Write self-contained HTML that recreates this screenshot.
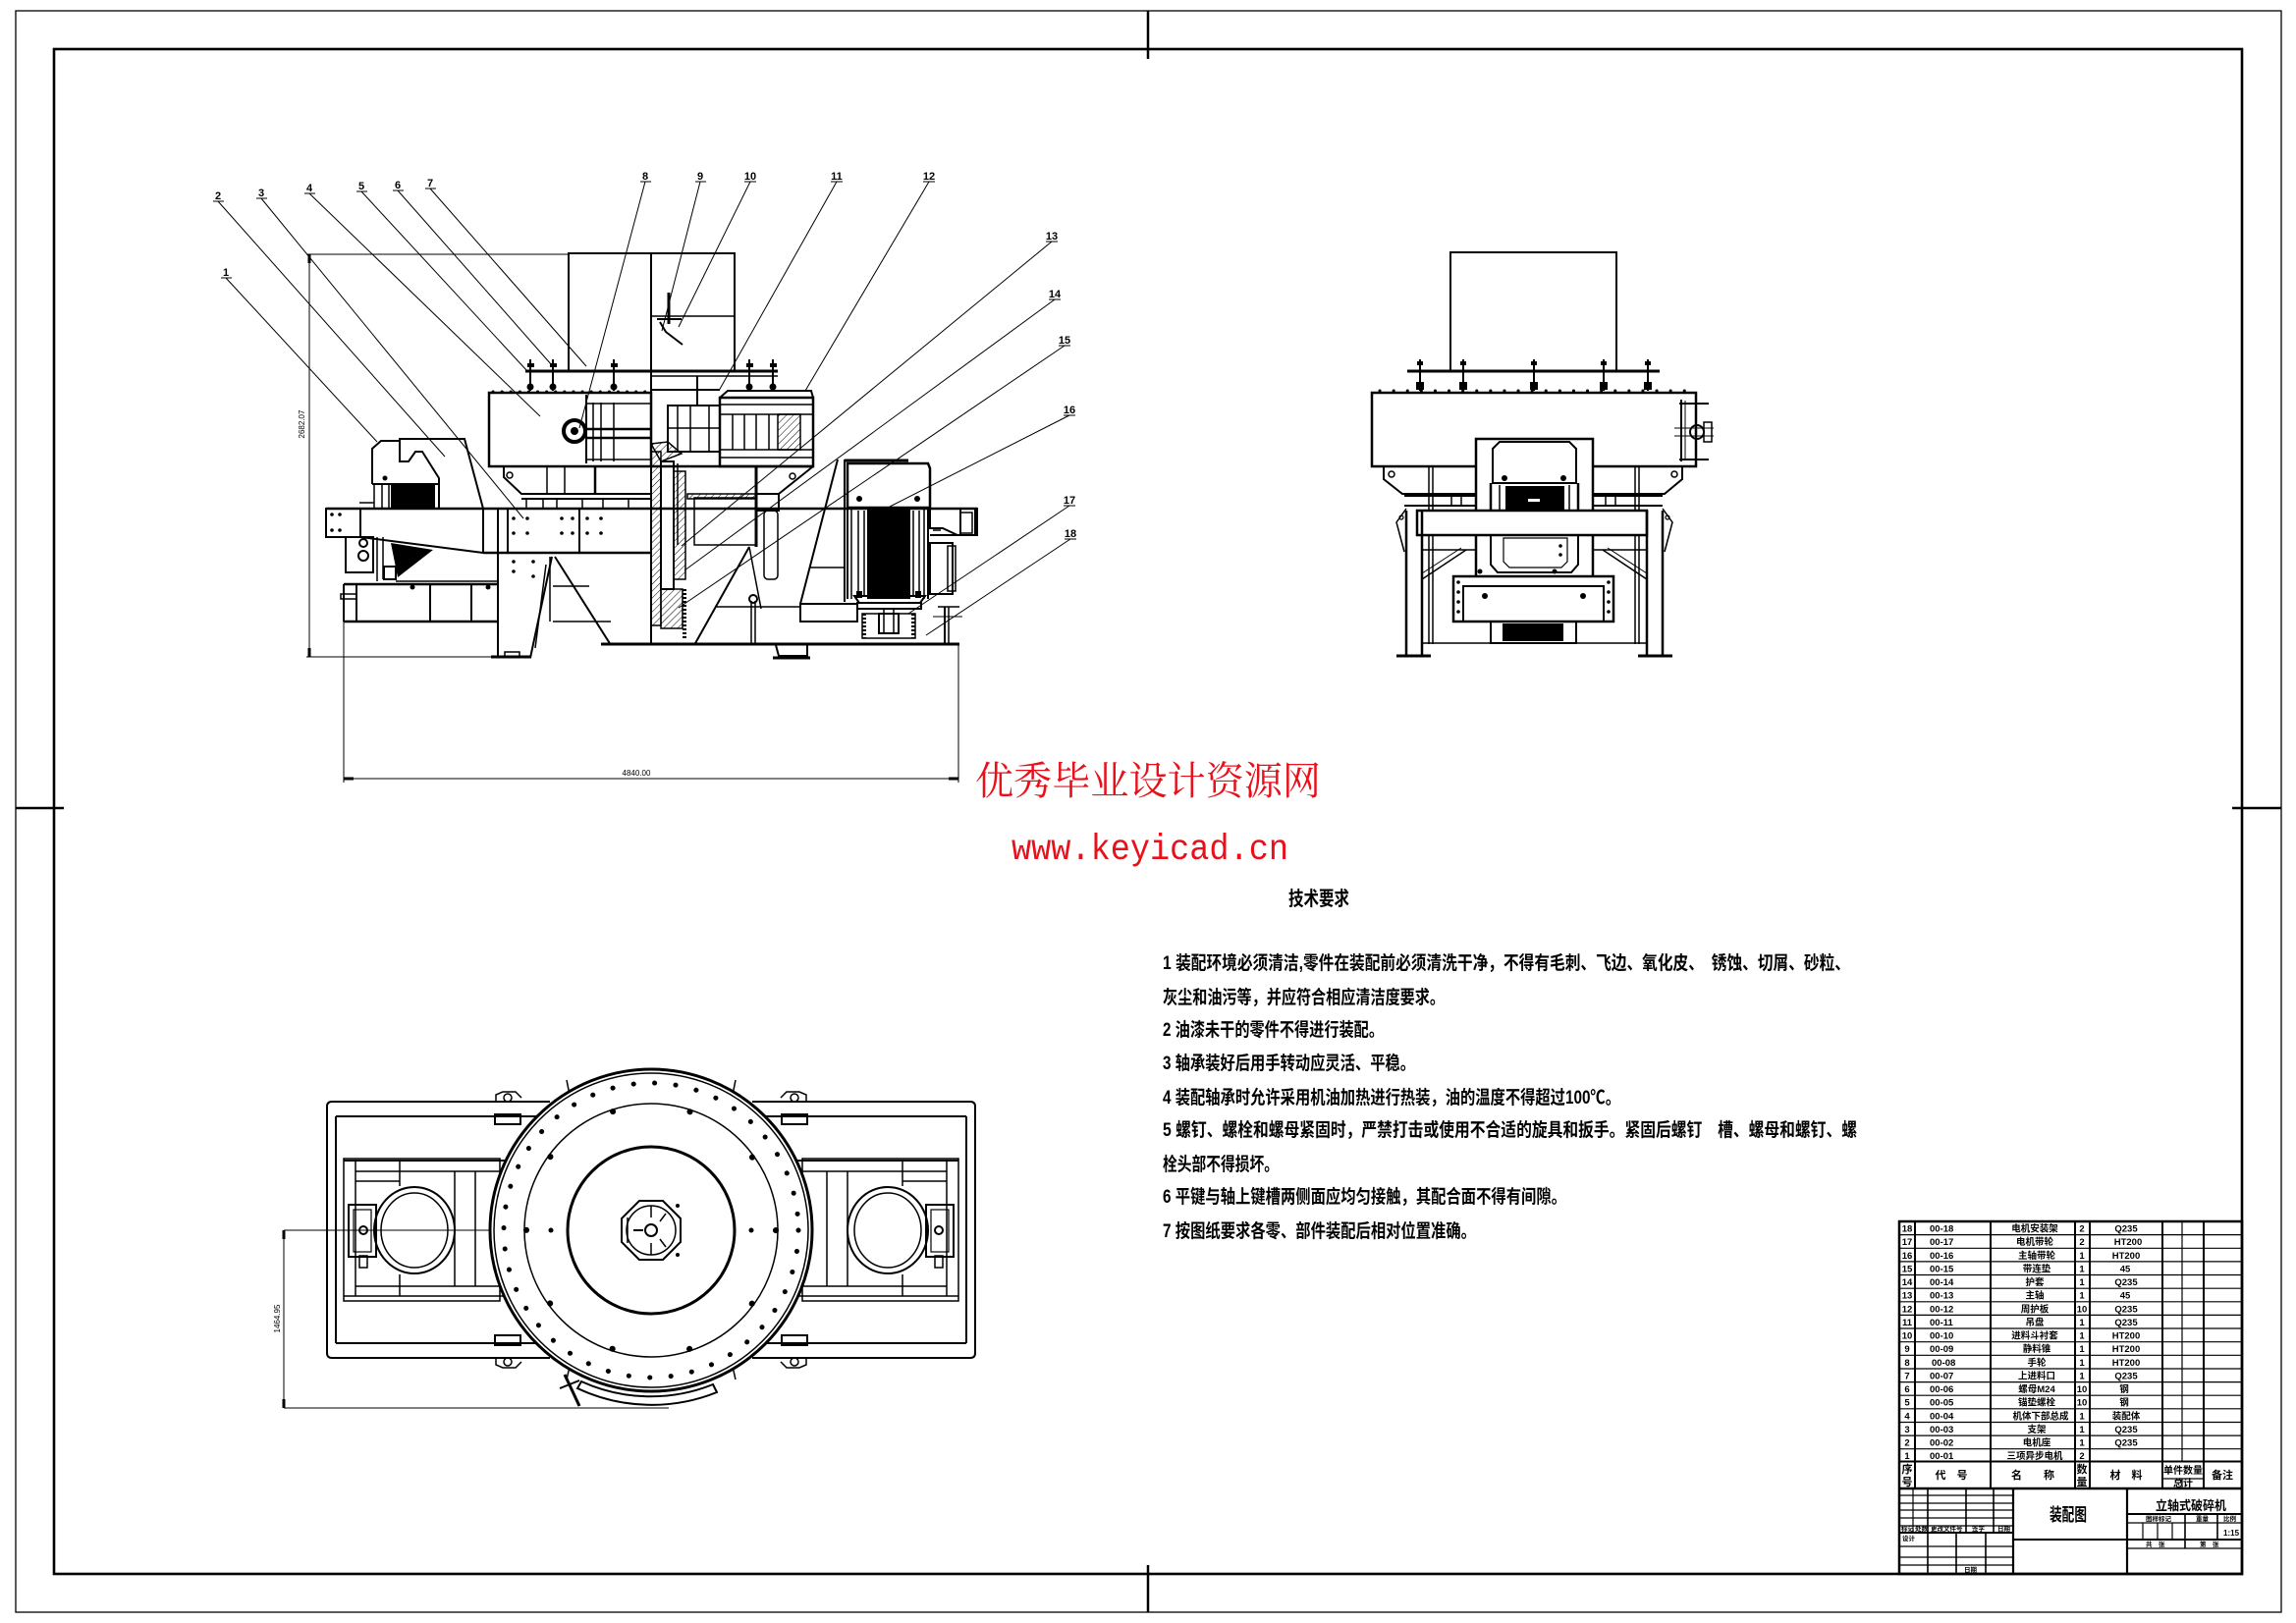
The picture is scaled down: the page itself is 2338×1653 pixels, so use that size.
<!DOCTYPE html>
<html><head><meta charset="utf-8">
<style>
html,body{margin:0;padding:0;background:#fff;}
body{width:2338px;height:1653px;overflow:hidden;}
svg{display:block;}
text{font-family:"Liberation Sans","Noto Sans CJK SC",sans-serif;}
.cj{font-family:"Liberation Sans","Noto Sans CJK SC",sans-serif;font-weight:bold;}
.sf{font-family:"Liberation Serif","Noto Serif CJK SC",serif;}
.mn{font-family:"Liberation Mono",monospace;}
</style></head><body>
<svg width="2338" height="1653" viewBox="0 0 2338 1653" xmlns="http://www.w3.org/2000/svg">
<defs>
<pattern id="h" width="5" height="5" patternUnits="userSpaceOnUse" patternTransform="rotate(45)"><line x1="0" y1="0" x2="0" y2="5" stroke="#000" stroke-width="1"/></pattern>
</defs>
<rect width="2338" height="1653" fill="#fff"/>

<!-- ================= FRAME ================= -->
<g fill="none" stroke="#000">
<rect x="16" y="11" width="2307" height="1631" stroke-width="1.3"/>
<rect x="55" y="50" width="2228" height="1553" stroke-width="2.6"/>
<line x1="1169" y1="11" x2="1169" y2="60" stroke-width="2.5"/>
<line x1="1169" y1="1594" x2="1169" y2="1642" stroke-width="2.5"/>
<line x1="16" y1="823" x2="65" y2="823" stroke-width="2.5"/>
<line x1="2273" y1="823" x2="2323" y2="823" stroke-width="2.5"/>
</g>

<!-- ================= FRONT VIEW ================= -->
<g fill="none" stroke="#000" stroke-width="2">
<!-- dimensions -->
<line x1="315" y1="259" x2="315" y2="669" stroke-width="1"/>
<line x1="312" y1="259" x2="579" y2="259" stroke-width="1"/>
<line x1="312" y1="669" x2="507" y2="669" stroke-width="1"/>
<line x1="315" y1="259" x2="315" y2="268" stroke-width="3"/>
<line x1="315" y1="660" x2="315" y2="669" stroke-width="3"/>
<line x1="350" y1="793" x2="976" y2="793" stroke-width="1"/>
<line x1="350" y1="633" x2="350" y2="797" stroke-width="1"/>
<line x1="976" y1="656" x2="976" y2="797" stroke-width="1"/>
<line x1="350" y1="793" x2="360" y2="793" stroke-width="3"/>
<line x1="966" y1="793" x2="976" y2="793" stroke-width="3"/>

<!-- hopper -->
<rect x="579" y="258" width="169" height="120" stroke-width="2"/>
<line x1="663" y1="258" x2="663" y2="657" stroke-width="2"/>
<line x1="663" y1="322" x2="748" y2="322" stroke-width="1.5"/>
<line x1="681" y1="298" x2="681" y2="330" stroke-width="3"/>
<line x1="669" y1="325" x2="694" y2="325" stroke-width="2"/>
<polyline points="672,328 678,338 695,351" stroke-width="2"/>

<!-- lid + bolts -->
<line x1="535" y1="378" x2="792" y2="378" stroke-width="3"/>
<line x1="663" y1="383" x2="792" y2="383" stroke-width="1.5"/>
<line x1="540" y1="366" x2="540" y2="398"/>
<line x1="563" y1="366" x2="563" y2="398"/>
<line x1="625" y1="366" x2="625" y2="398"/>
<line x1="763" y1="366" x2="763" y2="398"/>
<line x1="787" y1="366" x2="787" y2="398"/>
<line x1="710" y1="383" x2="710" y2="413"/>

<!-- upper body 4 -->
<rect x="498" y="400" width="165" height="75" stroke-width="2.5"/>
<line x1="502" y1="399" x2="660" y2="399" stroke-width="3" stroke-dasharray="0.1 9" stroke-linecap="round"/>
<circle cx="585" cy="439" r="11" stroke-width="4"/>
<line x1="597" y1="402" x2="597" y2="472" stroke-width="2"/>
<line x1="604" y1="410" x2="604" y2="470" stroke-width="1.5"/>
<line x1="612" y1="410" x2="612" y2="470" stroke-width="1.5"/>
<line x1="625" y1="410" x2="625" y2="470" stroke-width="1.5"/>
<line x1="597" y1="411" x2="663" y2="411" stroke-width="1.5"/>
<line x1="597" y1="437" x2="663" y2="437" stroke-width="2.5"/>
<line x1="597" y1="446" x2="663" y2="446" stroke-width="2.5"/>
<line x1="597" y1="468" x2="663" y2="468" stroke-width="1.5"/>

<!-- below body -->
<polyline points="513,475 513,486 531,503 663,503"/>
<line x1="531" y1="508" x2="663" y2="508"/>
<circle cx="519" cy="484" r="3" stroke-width="1.5"/>
<line x1="557" y1="475" x2="557" y2="503" stroke-width="1.5"/>
<line x1="575" y1="475" x2="575" y2="503" stroke-width="1.5"/>
<line x1="606" y1="475" x2="606" y2="503" stroke-width="2.5"/>
<line x1="536" y1="508" x2="536" y2="518" stroke-width="1.5"/>
<line x1="553" y1="508" x2="553" y2="518" stroke-width="1.5"/>
<line x1="567" y1="508" x2="567" y2="518" stroke-width="1.5"/>
<line x1="593" y1="508" x2="593" y2="518" stroke-width="1.5"/>
<line x1="614" y1="508" x2="614" y2="518" stroke-width="1.5"/>
<line x1="640" y1="508" x2="640" y2="518" stroke-width="1.5"/>

<!-- right chamber -->
<line x1="663" y1="397" x2="733" y2="397"/>
<rect x="680" y="413" width="53" height="47"/>
<line x1="690" y1="413" x2="690" y2="460" stroke-width="1.5"/>
<line x1="703" y1="413" x2="703" y2="460" stroke-width="1.5"/>
<line x1="722" y1="413" x2="722" y2="460" stroke-width="1.5"/>
<line x1="680" y1="436" x2="733" y2="436" stroke-width="1.5"/>
<rect x="733" y="405" width="95" height="70" stroke-width="2.5"/>
<polyline points="733,405 741,398 826,398 828,405"/>
<line x1="733" y1="412" x2="828" y2="412" stroke-width="1.5"/>
<line x1="733" y1="422" x2="828" y2="422" stroke-width="1.5"/>
<line x1="733" y1="458" x2="828" y2="458" stroke-width="1.5"/>
<line x1="733" y1="466" x2="828" y2="466" stroke-width="1.5"/>
<line x1="746" y1="422" x2="746" y2="458" stroke-width="1.5"/>
<line x1="758" y1="422" x2="758" y2="458" stroke-width="1.5"/>
<line x1="770" y1="422" x2="770" y2="458" stroke-width="1.5"/>
<line x1="783" y1="422" x2="783" y2="458" stroke-width="1.5"/>
<rect x="792" y="422" width="23" height="36" fill="url(#h)" stroke-width="1.5"/>
<polygon points="663,452 680,450 694,462 673,470" fill="url(#h)" stroke-width="1.5"/>
<line x1="663" y1="475" x2="829" y2="475" stroke-width="2.5"/>

<!-- shaft -->
<rect x="663" y="460" width="10" height="177" fill="url(#h)" stroke-width="1.5"/>
<rect x="673" y="470" width="13" height="130" stroke-width="2"/>
<rect x="686" y="480" width="12" height="110" fill="url(#h)" stroke-width="1.5"/>
<line x1="697" y1="600" x2="697" y2="652" stroke-width="4" stroke-dasharray="2 2"/>
<rect x="673" y="600" width="22" height="40" fill="url(#h)" stroke-width="1.5"/>

<!-- below chamber -->
<line x1="690" y1="472" x2="690" y2="555" stroke-width="1.5"/>
<line x1="770" y1="475" x2="770" y2="557" stroke-width="3"/>
<rect x="707" y="507" width="63" height="48" stroke-width="1.5"/>
<rect x="700" y="503" width="70" height="5" fill="url(#h)" stroke-width="1.5"/>
<rect x="770" y="503" width="23" height="17"/>
<rect x="778" y="520" width="14" height="70" rx="4" stroke-width="1.5"/>
<line x1="828" y1="475" x2="793" y2="503"/>
<circle cx="807" cy="485" r="3" stroke-width="1.5"/>

<!-- beam -->
<line x1="332" y1="518" x2="995" y2="518" stroke-width="2.5"/>
<rect x="332" y="518" width="35" height="29"/>
<line x1="367" y1="547" x2="492" y2="563"/>
<line x1="492" y1="563" x2="663" y2="563" stroke-width="2.5"/>
<line x1="492" y1="518" x2="492" y2="563"/>
<line x1="507" y1="518" x2="507" y2="563"/>
<line x1="517" y1="518" x2="517" y2="563"/>
<line x1="590" y1="518" x2="590" y2="563"/>
<rect x="978" y="518" width="17" height="27"/>
<line x1="947" y1="545" x2="995" y2="545"/>
<line x1="793" y1="518" x2="860" y2="518" stroke-width="1.5"/>
<line x1="825" y1="578" x2="860" y2="578" stroke-width="1.5"/>

<!-- left feeder -->
<polyline points="379,493 379,457 388,449 407,449 407,447 473,447 492,518"/>
<polyline points="407,447 407,470 416,470 423,460 430,460 447,487 447,518"/>
<line x1="381" y1="493" x2="381" y2="518" stroke-width="1.5"/>
<line x1="389" y1="493" x2="389" y2="518" stroke-width="1.5"/>
<line x1="396" y1="493" x2="396" y2="518" stroke-width="1.5"/>
<line x1="379" y1="493" x2="447" y2="493"/>
<line x1="366" y1="512" x2="381" y2="512" stroke-width="1.5"/>

<!-- lower left -->
<rect x="352" y="547" width="28" height="36"/>
<circle cx="370" cy="553" r="4"/>
<circle cx="370" cy="566" r="5"/>
<line x1="384" y1="547" x2="384" y2="592" stroke-width="1.5"/>
<line x1="390" y1="547" x2="390" y2="590" stroke-width="1.5"/>
<rect x="391" y="577" width="12" height="13"/>
<line x1="403" y1="592" x2="507" y2="592" stroke-width="1.5"/>
<line x1="350" y1="595" x2="507" y2="595" stroke-width="2.5"/>
<line x1="350" y1="633" x2="507" y2="633" stroke-width="2.5"/>
<line x1="350" y1="595" x2="350" y2="633"/>
<line x1="363" y1="595" x2="363" y2="633"/>
<line x1="438" y1="595" x2="438" y2="633"/>
<line x1="480" y1="595" x2="480" y2="633"/>
<rect x="347" y="605" width="16" height="5" stroke-width="1.5"/>

<!-- left cone support -->
<line x1="507" y1="563" x2="507" y2="670"/>
<line x1="540" y1="670" x2="562" y2="567"/>
<line x1="565" y1="567" x2="622" y2="657"/>
<line x1="556" y1="575" x2="545" y2="660" stroke-width="1.5"/>
<line x1="560" y1="567" x2="560" y2="633" stroke-width="1.5"/>
<line x1="563" y1="597" x2="600" y2="597" stroke-width="1.5"/>
<line x1="563" y1="633" x2="622" y2="633" stroke-width="1.5"/>
<line x1="500" y1="669" x2="541" y2="669" stroke-width="3"/>
<rect x="514" y="664" width="15" height="5" stroke-width="1.5"/>

<!-- base -->
<line x1="612" y1="656" x2="977" y2="656" stroke-width="3"/>
<polyline points="790,657 793,668 822,668 822,657"/>
<line x1="787" y1="670" x2="825" y2="670" stroke-width="3"/>

<!-- right cone -->
<line x1="763" y1="557" x2="707" y2="657"/>
<line x1="763" y1="557" x2="775" y2="620" stroke-width="1.5"/>
<line x1="728" y1="618" x2="815" y2="618" stroke-width="1.5"/>
<line x1="765" y1="612" x2="765" y2="656" stroke-width="1.5"/>
<line x1="769" y1="612" x2="769" y2="656" stroke-width="1.5"/>
<circle cx="767" cy="610" r="4"/>

<!-- motor support -->
<line x1="853" y1="468" x2="815" y2="615"/>
<line x1="860" y1="468" x2="860" y2="613"/>
<rect x="815" y="615" width="58" height="18"/>

<!-- motor -->
<line x1="860" y1="469" x2="925" y2="469" stroke-width="3"/>
<polygon points="863,472 945,472 947,477 947,517 863,517" stroke-width="2.5"/>
<line x1="863" y1="517" x2="863" y2="610"/>
<line x1="867" y1="517" x2="867" y2="610" stroke-width="1.5"/>
<line x1="945" y1="517" x2="945" y2="610"/>
<line x1="941" y1="517" x2="941" y2="610" stroke-width="1.5"/>
<line x1="874" y1="520" x2="874" y2="607" stroke-width="1.5"/>
<line x1="880" y1="520" x2="880" y2="607" stroke-width="1.5"/>
<line x1="930" y1="520" x2="930" y2="607" stroke-width="1.5"/>
<line x1="936" y1="520" x2="936" y2="607" stroke-width="1.5"/>
<polygon points="870,607 875,614 937,614 942,607"/>
<rect x="873" y="614" width="65" height="6"/>
<rect x="878" y="625" width="54" height="25" stroke-width="1.5"/>
<line x1="880" y1="625" x2="880" y2="650" stroke-width="4" stroke-dasharray="2 2"/>
<line x1="930" y1="625" x2="930" y2="650" stroke-width="4" stroke-dasharray="2 2"/>
<rect x="895" y="625" width="20" height="20"/>
<line x1="900" y1="620" x2="900" y2="645" stroke-width="1.5"/>
<line x1="910" y1="620" x2="910" y2="645" stroke-width="1.5"/>
<polygon points="947,518 993,518 993,545 975,545 960,538 947,538"/>
<rect x="978" y="522" width="12" height="21" stroke-width="1.5"/>
<rect x="947" y="553" width="23" height="52"/>
<rect x="965" y="556" width="8" height="46" stroke-width="1.5"/>
<line x1="950" y1="540" x2="958" y2="540" stroke-width="1.5"/>
<line x1="962" y1="618" x2="962" y2="656"/>
<line x1="966" y1="618" x2="966" y2="656" stroke-width="1.5"/>
<line x1="955" y1="618" x2="977" y2="618" stroke-width="1.5"/>
<line x1="950" y1="628" x2="980" y2="628" stroke-width="1"/>
</g>
<!-- front fills -->
<g fill="#000" stroke="none">
<rect x="398" y="493" width="45" height="25"/>
<polygon points="398,553 441,560 405,588"/>
<rect x="883" y="517" width="44" height="93"/>
<rect x="872" y="602" width="6" height="7"/>
<rect x="932" y="602" width="6" height="7"/>
<circle cx="875" cy="508" r="3"/>
<circle cx="934" cy="508" r="3"/>
<circle cx="585" cy="439" r="4"/>
<circle cx="392" cy="487" r="2.5"/>
<rect x="537" y="370" width="7" height="4"/><rect x="560" y="370" width="7" height="4"/><rect x="622" y="370" width="7" height="4"/><rect x="760" y="370" width="7" height="4"/><rect x="784" y="370" width="7" height="4"/>
<circle cx="540" cy="394" r="3.5"/><circle cx="563" cy="394" r="3.5"/><circle cx="625" cy="394" r="3.5"/><circle cx="763" cy="394" r="3.5"/><circle cx="787" cy="394" r="3.5"/>
<circle cx="338" cy="524" r="1.8"/><circle cx="346" cy="524" r="1.8"/><circle cx="338" cy="540" r="1.8"/><circle cx="346" cy="540" r="1.8"/>
<circle cx="523" cy="528" r="1.8"/><circle cx="537" cy="528" r="1.8"/><circle cx="523" cy="543" r="1.8"/><circle cx="537" cy="543" r="1.8"/>
<circle cx="572" cy="528" r="1.8"/><circle cx="583" cy="528" r="1.8"/><circle cx="572" cy="543" r="1.8"/><circle cx="583" cy="543" r="1.8"/>
<circle cx="598" cy="528" r="1.8"/><circle cx="612" cy="528" r="1.8"/><circle cx="598" cy="543" r="1.8"/><circle cx="612" cy="543" r="1.8"/>
<circle cx="523" cy="572" r="1.8"/><circle cx="543" cy="572" r="1.8"/><circle cx="523" cy="582" r="1.8"/><circle cx="543" cy="587" r="1.8"/>
<circle cx="420" cy="598" r="2.5"/><circle cx="497" cy="598" r="2.5"/>
</g>

<!-- leaders -->
<g stroke="#000" stroke-width="1" fill="none">
<line x1="230" y1="283" x2="384" y2="450"/>
<line x1="222" y1="205" x2="453" y2="465"/>
<line x1="266" y1="202" x2="533" y2="528"/>
<line x1="315" y1="197" x2="550" y2="424"/>
<line x1="368" y1="195" x2="537" y2="378"/>
<line x1="405" y1="194" x2="562" y2="372"/>
<line x1="438" y1="192" x2="597" y2="373"/>
<line x1="657" y1="185" x2="590" y2="436"/>
<line x1="713" y1="185" x2="674" y2="337"/>
<line x1="764" y1="185" x2="691" y2="333"/>
<line x1="852" y1="185" x2="732" y2="398"/>
<line x1="946" y1="185" x2="820" y2="398"/>
<line x1="1071" y1="246" x2="694" y2="556"/>
<line x1="1074" y1="305" x2="697" y2="581"/>
<line x1="1084" y1="352" x2="691" y2="619"/>
<line x1="1089" y1="423" x2="906" y2="516"/>
<line x1="1089" y1="515" x2="925" y2="625"/>
<line x1="1090" y1="549" x2="943" y2="647"/>
<line x1="225" y1="283" x2="236" y2="283"/>
<line x1="217" y1="205" x2="228" y2="205"/>
<line x1="261" y1="202" x2="272" y2="202"/>
<line x1="310" y1="197" x2="321" y2="197"/>
<line x1="363" y1="195" x2="374" y2="195"/>
<line x1="400" y1="194" x2="411" y2="194"/>
<line x1="433" y1="192" x2="444" y2="192"/>
<line x1="652" y1="185" x2="663" y2="185"/>
<line x1="708" y1="185" x2="719" y2="185"/>
<line x1="758" y1="185" x2="770" y2="185"/>
<line x1="846" y1="185" x2="858" y2="185"/>
<line x1="940" y1="185" x2="952" y2="185"/>
<line x1="1065" y1="246" x2="1077" y2="246"/>
<line x1="1068" y1="305" x2="1080" y2="305"/>
<line x1="1078" y1="352" x2="1090" y2="352"/>
<line x1="1083" y1="423" x2="1095" y2="423"/>
<line x1="1083" y1="515" x2="1095" y2="515"/>
<line x1="1084" y1="549" x2="1096" y2="549"/>
</g>
<g font-size="11" font-weight="bold" text-anchor="middle" fill="#000">
<text x="230" y="281">1</text><text x="222" y="203">2</text><text x="266" y="200">3</text><text x="315" y="195">4</text>
<text x="368" y="193">5</text><text x="405" y="192">6</text><text x="438" y="190">7</text><text x="657" y="183">8</text>
<text x="713" y="183">9</text><text x="764" y="183">10</text><text x="852" y="183">11</text><text x="946" y="183">12</text>
<text x="1071" y="244">13</text><text x="1074" y="303">14</text><text x="1084" y="350">15</text><text x="1089" y="421">16</text>
<text x="1089" y="513">17</text><text x="1090" y="547">18</text>
</g>
<text x="310" y="432" font-size="8" transform="rotate(-90 310 432)" text-anchor="middle">2682.07</text>
<text x="648" y="790" font-size="8" text-anchor="middle">4840.00</text>

<!-- ================= SIDE VIEW ================= -->
<g fill="none" stroke="#000" stroke-width="2">
<rect x="1477" y="257" width="169" height="121"/>
<line x1="1433" y1="378" x2="1690" y2="378" stroke-width="3"/>
<line x1="1446" y1="366" x2="1446" y2="398"/>
<line x1="1490" y1="366" x2="1490" y2="398"/>
<line x1="1562" y1="366" x2="1562" y2="398"/>
<line x1="1633" y1="366" x2="1633" y2="398"/>
<line x1="1678" y1="366" x2="1678" y2="398"/>
<rect x="1397" y="400" width="330" height="75" stroke-width="2.5"/>
<line x1="1405" y1="398" x2="1720" y2="398" stroke-width="3" stroke-dasharray="0.1 14" stroke-linecap="round"/>
<line x1="1712" y1="407" x2="1712" y2="470"/>
<line x1="1716" y1="408" x2="1716" y2="469" stroke-width="1"/>
<line x1="1710" y1="411" x2="1740" y2="411"/>
<line x1="1710" y1="468" x2="1740" y2="468"/>
<circle cx="1728" cy="440" r="7"/>
<line x1="1705" y1="436" x2="1745" y2="436" stroke-width="1"/>
<line x1="1705" y1="444" x2="1745" y2="444" stroke-width="1"/>
<rect x="1735" y="430" width="8" height="20" stroke-width="1.5"/>
<polyline points="1409,475 1409,488 1428,503 1695,503 1713,488 1713,475"/>
<circle cx="1417" cy="483" r="3" stroke-width="1.5"/>
<circle cx="1705" cy="483" r="3" stroke-width="1.5"/>
<line x1="1430" y1="505" x2="1693" y2="505"/>
<line x1="1430" y1="515" x2="1693" y2="515"/>
<line x1="1455" y1="475" x2="1455" y2="656" stroke-width="1.5"/>
<line x1="1459" y1="475" x2="1459" y2="656" stroke-width="1.5"/>
<line x1="1665" y1="475" x2="1665" y2="656" stroke-width="1.5"/>
<line x1="1669" y1="475" x2="1669" y2="656" stroke-width="1.5"/>
<line x1="1478" y1="505" x2="1478" y2="515" stroke-width="1.5"/>
<line x1="1488" y1="505" x2="1488" y2="515" stroke-width="1.5"/>
<line x1="1635" y1="505" x2="1635" y2="515" stroke-width="1.5"/>
<line x1="1645" y1="505" x2="1645" y2="515" stroke-width="1.5"/>
<rect x="1503" y="447" width="119" height="145" stroke-width="2.5" fill="#fff"/>
<polygon points="1520,457 1527,450 1598,450 1605,457 1605,492 1520,492"/>
<line x1="1518" y1="492" x2="1518" y2="545" stroke-width="2.5"/>
<line x1="1607" y1="492" x2="1607" y2="545" stroke-width="2.5"/>
<line x1="1527" y1="494" x2="1527" y2="545" stroke-width="1.5"/>
<line x1="1598" y1="494" x2="1598" y2="545" stroke-width="1.5"/>
<rect x="1443" y="520" width="234" height="25" stroke-width="2.5" fill="#fff"/>
<polygon points="1518,545 1518,575 1525,583 1600,583 1607,575 1607,545"/>
<polygon points="1531,548 1531,572 1537,578 1590,578 1596,572 1596,548" stroke-width="1.2"/>
<line x1="1432" y1="520" x2="1432" y2="667" stroke-width="2.5"/>
<line x1="1448" y1="520" x2="1448" y2="667" stroke-width="2.5"/>
<line x1="1677" y1="520" x2="1677" y2="667" stroke-width="2.5"/>
<line x1="1693" y1="520" x2="1693" y2="667" stroke-width="2.5"/>
<polyline points="1432,518 1422,532 1430,562" stroke-width="1.5"/>
<polyline points="1693,518 1703,532 1695,562" stroke-width="1.5"/>
<circle cx="1427" cy="527" r="2" stroke-width="1.2"/>
<circle cx="1698" cy="527" r="2" stroke-width="1.2"/>
<line x1="1448" y1="590" x2="1493" y2="560" stroke-width="1.5"/>
<line x1="1448" y1="584" x2="1488" y2="558" stroke-width="1"/>
<line x1="1677" y1="590" x2="1632" y2="560" stroke-width="1.5"/>
<line x1="1677" y1="584" x2="1637" y2="558" stroke-width="1"/>
<line x1="1448" y1="560" x2="1503" y2="560" stroke-width="1.5"/>
<line x1="1622" y1="560" x2="1677" y2="560" stroke-width="1.5"/>
<rect x="1480" y="587" width="163" height="46" stroke-width="2.5" fill="#fff"/>
<rect x="1490" y="597" width="143" height="36"/>
<rect x="1518" y="633" width="87" height="22"/>
<line x1="1448" y1="655" x2="1677" y2="655" stroke-width="1.5"/>
<line x1="1422" y1="668" x2="1457" y2="668" stroke-width="3"/>
<line x1="1668" y1="668" x2="1703" y2="668" stroke-width="3"/>
</g>
<g fill="#000">
<rect x="1442" y="389" width="8" height="8"/><rect x="1486" y="389" width="8" height="8"/><rect x="1558" y="389" width="8" height="8"/><rect x="1629" y="389" width="8" height="8"/><rect x="1674" y="389" width="8" height="8"/>
<rect x="1443" y="368" width="6" height="4"/><rect x="1487" y="368" width="6" height="4"/><rect x="1559" y="368" width="6" height="4"/><rect x="1630" y="368" width="6" height="4"/><rect x="1675" y="368" width="6" height="4"/>
<circle cx="1532" cy="487" r="3"/><circle cx="1592" cy="487" r="3"/>
<rect x="1533" y="495" width="60" height="24"/>
<circle cx="1512" cy="607" r="3"/><circle cx="1612" cy="607" r="3"/>
<rect x="1530" y="635" width="62" height="18"/>
<circle cx="1485" cy="593" r="1.8"/><circle cx="1485" cy="603" r="1.8"/><circle cx="1485" cy="613" r="1.8"/><circle cx="1485" cy="623" r="1.8"/>
<circle cx="1638" cy="593" r="1.8"/><circle cx="1638" cy="603" r="1.8"/><circle cx="1638" cy="613" r="1.8"/><circle cx="1638" cy="623" r="1.8"/>
<circle cx="1589" cy="556" r="1.8"/><circle cx="1589" cy="565" r="1.8"/><circle cx="1507" cy="582" r="2.5"/><circle cx="1583" cy="582" r="2.5"/>
</g>
<rect x="1556" y="508" width="12" height="3" fill="#fff"/>

<!-- ================= PLAN VIEW ================= -->
<g fill="none" stroke="#000" stroke-width="2">
<g id="lhalf">
<path d="M560 1122 L338 1122 Q333 1122 333 1127 L333 1378 Q333 1383 338 1383 L560 1383"/>
<line x1="342" y1="1137" x2="560" y2="1137"/>
<line x1="342" y1="1368" x2="560" y2="1368"/>
<line x1="342" y1="1137" x2="342" y2="1368"/>
<rect x="350" y="1180" width="159" height="145" stroke-width="1.5"/>
<line x1="350" y1="1182" x2="560" y2="1182" stroke-width="2"/>
<line x1="362" y1="1193" x2="509" y2="1193" stroke-width="1.5"/>
<line x1="362" y1="1203" x2="407" y2="1203" stroke-width="1.5"/>
<line x1="362" y1="1310" x2="509" y2="1310" stroke-width="1.5"/>
<line x1="350" y1="1320" x2="560" y2="1320" stroke-width="1.5"/>
<line x1="362" y1="1182" x2="362" y2="1320" stroke-width="1.5"/>
<line x1="407" y1="1182" x2="407" y2="1208" stroke-width="1.5"/>
<line x1="407" y1="1298" x2="407" y2="1320" stroke-width="1.5"/>
<line x1="463" y1="1193" x2="463" y2="1310" stroke-width="1.5"/>
<line x1="484" y1="1193" x2="484" y2="1310" stroke-width="1.5"/>
<ellipse cx="422" cy="1253" rx="41" ry="44"/>
<ellipse cx="422" cy="1253" rx="34" ry="38" stroke-width="1.5"/>
<rect x="355" y="1227" width="28" height="53"/>
<rect x="360" y="1232" width="18" height="43" stroke-width="1.2"/>
<circle cx="370" cy="1253" r="4"/>
<rect x="366" y="1279" width="8" height="12" stroke-width="1.5"/>
<rect x="504" y="1135" width="26" height="10"/>
<rect x="504" y="1360" width="26" height="10"/>
<path d="M505 1123 L505 1115 L512 1112 L525 1112 L531 1118" stroke-width="1.5"/>
<path d="M505 1382 L505 1390 L512 1393 L525 1393 L531 1387" stroke-width="1.5"/>
<circle cx="517" cy="1118" r="4" stroke-width="1.5"/>
<circle cx="517" cy="1387" r="4" stroke-width="1.5"/>
<line x1="577" y1="1100" x2="580" y2="1115" stroke-width="1.5"/>
<line x1="577" y1="1405" x2="580" y2="1392" stroke-width="1.5"/>
</g>
<use href="#lhalf" transform="translate(1326,0) scale(-1,1)"/>

<line x1="289" y1="1253" x2="663" y2="1253" stroke-width="1"/>
<line x1="289" y1="1434" x2="681" y2="1434" stroke-width="1"/>
<line x1="289" y1="1253" x2="289" y2="1434" stroke-width="1"/>
<line x1="289" y1="1253" x2="289" y2="1262" stroke-width="3"/>
<line x1="289" y1="1425" x2="289" y2="1434" stroke-width="3"/>

<!-- big circle -->
<circle cx="663" cy="1253" r="164" stroke-width="3" fill="#fff"/>
<circle cx="663" cy="1253" r="160" stroke-width="1.5"/>
<circle cx="663" cy="1253" r="150" stroke-width="5" stroke-dasharray="0.1 21.42" stroke-linecap="round"/>
<circle cx="663" cy="1253" r="129" stroke-width="1.5"/>
<circle cx="663" cy="1253" r="127" stroke-width="6" stroke-dasharray="0.1 79.7" stroke-linecap="round"/>
<circle cx="663" cy="1253" r="85" stroke-width="3"/>
<polygon points="693,1241 675,1223 651,1223 633,1241 633,1265 651,1283 675,1283 693,1265" stroke-width="2"/>
<circle cx="663" cy="1253" r="25" stroke-width="1.5"/>
<circle cx="663" cy="1253" r="6" stroke-width="2"/>
<line x1="663" y1="1228" x2="663" y2="1240" stroke-width="1.5"/>
<line x1="663" y1="1266" x2="663" y2="1278" stroke-width="1.5"/>
<line x1="678" y1="1236" x2="672" y2="1244" stroke-width="1.5"/>
<line x1="678" y1="1270" x2="672" y2="1262" stroke-width="1.5"/>
<line x1="645" y1="1253" x2="655" y2="1253" stroke-width="2"/>
<line x1="639" y1="1240" x2="639" y2="1266" stroke-width="1.5"/>
<!-- spout -->
<path d="M588 1414 A178 178 0 0 0 730 1418 L726 1410 A170 170 0 0 1 592 1407 Z" stroke-width="2"/>
<line x1="575" y1="1400" x2="590" y2="1432" stroke-width="3"/>
<line x1="570" y1="1414" x2="590" y2="1406" stroke-width="2"/>
</g>
<g fill="#000">
<circle cx="561" cy="1253" r="2.5"/><circle cx="765" cy="1253" r="2.5"/>
<circle cx="690" cy="1228" r="2"/><circle cx="690" cy="1278" r="2"/>
</g>
<text x="285" y="1343" font-size="8" transform="rotate(-90 285 1343)" text-anchor="middle">1464.95</text>

<!-- ================= WATERMARK ================= -->
<text class="sf" x="993" y="809" font-size="40" fill="#e8101a" textLength="352" lengthAdjust="spacingAndGlyphs">优秀毕业设计资源网</text>
<text class="mn" x="1030" y="875" font-size="37" fill="#e8101a" textLength="282" lengthAdjust="spacingAndGlyphs">www.keyicad.cn</text>

<!-- ================= TECH REQUIREMENTS ================= -->
<g class="cj" fill="#000" font-size="19">
<text x="1312" y="922" font-size="20" textLength="62" lengthAdjust="spacingAndGlyphs">技术要求</text>
<text x="1184" y="987" textLength="700" lengthAdjust="spacingAndGlyphs">1 装配环境必须清洁,零件在装配前必须清洗干净，不得有毛刺、飞边、氧化皮、　锈蚀、切屑、砂粒、</text>
<text x="1184" y="1022" textLength="287" lengthAdjust="spacingAndGlyphs">灰尘和油污等，并应符合相应清洁度要求。</text>
<text x="1184" y="1055" textLength="225" lengthAdjust="spacingAndGlyphs">2 油漆未干的零件不得进行装配。</text>
<text x="1184" y="1089" textLength="257" lengthAdjust="spacingAndGlyphs">3 轴承装好后用手转动应灵活、平稳。</text>
<text x="1184" y="1124" textLength="466" lengthAdjust="spacingAndGlyphs">4 装配轴承时允许采用机油加热进行热装，油的温度不得超过100℃。</text>
<text x="1184" y="1157" textLength="707" lengthAdjust="spacingAndGlyphs">5 螺钉、螺栓和螺母紧固时，严禁打击或使用不合适的旋具和扳手。紧固后螺钉　槽、螺母和螺钉、螺</text>
<text x="1184" y="1192" textLength="118" lengthAdjust="spacingAndGlyphs">栓头部不得损坏。</text>
<text x="1184" y="1225" textLength="411" lengthAdjust="spacingAndGlyphs">6 平键与轴上键槽两侧面应均匀接触，其配合面不得有间隙。</text>
<text x="1184" y="1260" textLength="319" lengthAdjust="spacingAndGlyphs">7 按图纸要求各零、部件装配后相对位置准确。</text>
</g>

<!-- ================= PARTS LIST ================= -->
<g fill="none" stroke="#000" stroke-width="1.2">
<rect x="1934" y="1244" width="349" height="359" stroke-width="2.5"/>
<line x1="1934" y1="1257.6" x2="2283" y2="1257.6"/>
<line x1="1934" y1="1271.3" x2="2283" y2="1271.3"/>
<line x1="1934" y1="1284.9" x2="2283" y2="1284.9"/>
<line x1="1934" y1="1298.5" x2="2283" y2="1298.5"/>
<line x1="1934" y1="1312.2" x2="2283" y2="1312.2"/>
<line x1="1934" y1="1325.8" x2="2283" y2="1325.8"/>
<line x1="1934" y1="1339.4" x2="2283" y2="1339.4"/>
<line x1="1934" y1="1353.0" x2="2283" y2="1353.0"/>
<line x1="1934" y1="1366.7" x2="2283" y2="1366.7"/>
<line x1="1934" y1="1380.3" x2="2283" y2="1380.3"/>
<line x1="1934" y1="1394.0" x2="2283" y2="1394.0"/>
<line x1="1934" y1="1407.6" x2="2283" y2="1407.6"/>
<line x1="1934" y1="1421.2" x2="2283" y2="1421.2"/>
<line x1="1934" y1="1434.8" x2="2283" y2="1434.8"/>
<line x1="1934" y1="1448.5" x2="2283" y2="1448.5"/>
<line x1="1934" y1="1462.1" x2="2283" y2="1462.1"/>
<line x1="1934" y1="1475.7" x2="2283" y2="1475.7"/>
<line x1="1934" y1="1488.5" x2="2283" y2="1488.5" stroke-width="2"/>
<line x1="1934" y1="1516" x2="2283" y2="1516" stroke-width="2.5"/>
<line x1="1950" y1="1244" x2="1950" y2="1516" stroke-width="2"/>
<line x1="2027" y1="1244" x2="2027" y2="1516" stroke-width="2"/>
<line x1="2113" y1="1244" x2="2113" y2="1516" stroke-width="2"/>
<line x1="2128" y1="1244" x2="2128" y2="1516" stroke-width="2"/>
<line x1="2202" y1="1244" x2="2202" y2="1516" stroke-width="2"/>
<line x1="2222" y1="1244" x2="2222" y2="1488"/>
<line x1="2222" y1="1506" x2="2222" y2="1516"/>
<line x1="2244" y1="1244" x2="2244" y2="1516" stroke-width="2"/>
<line x1="2202" y1="1506" x2="2244" y2="1506"/>
<!-- title block -->
<line x1="2050" y1="1516" x2="2050" y2="1603" stroke-width="2.2"/>
<line x1="2166" y1="1516" x2="2166" y2="1603" stroke-width="2.2"/>
<line x1="1948" y1="1516" x2="1948" y2="1561"/>
<line x1="1963" y1="1516" x2="1963" y2="1603" stroke-width="1.6"/>
<line x1="2002" y1="1516" x2="2002" y2="1561" stroke-width="1.6"/>
<line x1="2030" y1="1516" x2="2030" y2="1561" stroke-width="1.6"/>
<line x1="1992" y1="1561" x2="1992" y2="1603" stroke-width="1.6"/>
<line x1="2022" y1="1561" x2="2022" y2="1603" stroke-width="1.6"/>
<line x1="1934" y1="1523" x2="2050" y2="1523"/>
<line x1="1934" y1="1531" x2="2050" y2="1531"/>
<line x1="1934" y1="1538" x2="2050" y2="1538"/>
<line x1="1934" y1="1546" x2="2050" y2="1546"/>
<line x1="1934" y1="1554" x2="2050" y2="1554"/>
<line x1="1934" y1="1561" x2="2050" y2="1561" stroke-width="2"/>
<line x1="1934" y1="1575" x2="2050" y2="1575"/>
<line x1="1934" y1="1586" x2="2050" y2="1586"/>
<line x1="1934" y1="1594" x2="2050" y2="1594"/>
<line x1="2050" y1="1568" x2="2166" y2="1568" stroke-width="2"/>
<line x1="2166" y1="1542" x2="2283" y2="1542" stroke-width="2"/>
<line x1="2166" y1="1551" x2="2283" y2="1551"/>
<line x1="2166" y1="1568" x2="2283" y2="1568" stroke-width="2"/>
<line x1="2166" y1="1577" x2="2283" y2="1577"/>
<line x1="2182" y1="1551" x2="2182" y2="1568"/>
<line x1="2197" y1="1551" x2="2197" y2="1568"/>
<line x1="2212" y1="1551" x2="2212" y2="1568"/>
<line x1="2225" y1="1542" x2="2225" y2="1577" stroke-width="1.6"/>
<line x1="2258" y1="1542" x2="2258" y2="1568" stroke-width="1.6"/>
</g>
<g class="cj" fill="#000" font-size="9.5">
<g text-anchor="middle">
<text x="1942" y="1254.5">18</text><text x="1942" y="1268.1">17</text><text x="1942" y="1281.8">16</text><text x="1942" y="1295.4">15</text>
<text x="1942" y="1309.0">14</text><text x="1942" y="1322.7">13</text><text x="1942" y="1336.3">12</text><text x="1942" y="1349.9">11</text>
<text x="1942" y="1363.5">10</text><text x="1942" y="1377.2">9</text><text x="1942" y="1390.8">8</text><text x="1942" y="1404.5">7</text>
<text x="1942" y="1418.1">6</text><text x="1942" y="1431.7">5</text><text x="1942" y="1445.3">4</text><text x="1942" y="1459.0">3</text>
<text x="1942" y="1472.6">2</text><text x="1942" y="1486.2">1</text>
<text x="2072" y="1254.5">电机安装架</text><text x="2072" y="1268.1">电机带轮</text><text x="2074" y="1281.8">主轴带轮</text><text x="2074" y="1295.4">带连垫</text>
<text x="2072" y="1309.0">护套</text><text x="2072" y="1322.7">主轴</text><text x="2072" y="1336.3">周护板</text><text x="2072" y="1349.9">吊盘</text>
<text x="2072" y="1363.5">进料斗衬套</text><text x="2074" y="1377.2">静料锥</text><text x="2074" y="1390.8">手轮</text><text x="2074" y="1404.5">上进料口</text>
<text x="2074" y="1418.1">螺母M24</text><text x="2074" y="1431.7">锚垫螺栓</text><text x="2078" y="1445.3">机体下部总成</text><text x="2074" y="1459.0">支架</text>
<text x="2074" y="1472.6">电机座</text><text x="2072" y="1486.2">三项异步电机</text>
<text x="2120" y="1254.5">2</text><text x="2120" y="1268.1">2</text><text x="2120" y="1281.8">1</text><text x="2120" y="1295.4">1</text>
<text x="2120" y="1309.0">1</text><text x="2120" y="1322.7">1</text><text x="2120" y="1336.3">10</text><text x="2120" y="1349.9">1</text>
<text x="2120" y="1363.5">1</text><text x="2120" y="1377.2">1</text><text x="2120" y="1390.8">1</text><text x="2120" y="1404.5">1</text>
<text x="2120" y="1418.1">10</text><text x="2120" y="1431.7">10</text><text x="2120" y="1445.3">1</text><text x="2120" y="1459.0">1</text>
<text x="2120" y="1472.6">1</text><text x="2120" y="1486.2">2</text>
<text x="2165" y="1254.5">Q235</text><text x="2167" y="1268.1">HT200</text><text x="2165" y="1281.8">HT200</text><text x="2164" y="1295.4">45</text>
<text x="2165" y="1309.0">Q235</text><text x="2164" y="1322.7">45</text><text x="2165" y="1336.3">Q235</text><text x="2165" y="1349.9">Q235</text>
<text x="2165" y="1363.5">HT200</text><text x="2165" y="1377.2">HT200</text><text x="2165" y="1390.8">HT200</text><text x="2165" y="1404.5">Q235</text>
<text x="2163" y="1418.1">钢</text><text x="2163" y="1431.7">钢</text><text x="2165" y="1445.3">装配体</text><text x="2165" y="1459.0">Q235</text>
<text x="2165" y="1472.6">Q235</text>
</g>
<text x="1965" y="1254.5">00-18</text><text x="1965" y="1268.1">00-17</text><text x="1965" y="1281.8">00-16</text><text x="1965" y="1295.4">00-15</text>
<text x="1965" y="1309.0">00-14</text><text x="1965" y="1322.7">00-13</text><text x="1965" y="1336.3">00-12</text><text x="1965" y="1349.9">00-11</text>
<text x="1965" y="1363.5">00-10</text><text x="1965" y="1377.2">00-09</text><text x="1967" y="1390.8">00-08</text><text x="1965" y="1404.5">00-07</text>
<text x="1965" y="1418.1">00-06</text><text x="1965" y="1431.7">00-05</text><text x="1965" y="1445.3">00-04</text><text x="1965" y="1459.0">00-03</text>
<text x="1965" y="1472.6">00-02</text><text x="1965" y="1486.2">00-01</text>
</g>
<g class="cj" fill="#000" font-size="11" text-anchor="middle">
<text x="1942" y="1500">序</text><text x="1942" y="1513">号</text>
<text x="1987" y="1506">代　号</text>
<text x="2070" y="1506">名　　称</text>
<text x="2120" y="1500">数</text><text x="2120" y="1513">量</text>
<text x="2165" y="1506">材　料</text>
<text x="2223" y="1501" font-size="10">单件数量</text>
<text x="2223" y="1514" font-size="10">总计</text>
<text x="2263" y="1506">备注</text>
<text x="2106" y="1549" font-size="18" textLength="38" lengthAdjust="spacingAndGlyphs">装配图</text>
<text x="2231" y="1538" font-size="13" textLength="72" lengthAdjust="spacingAndGlyphs">立轴式破碎机</text>
</g>
<g class="cj" fill="#000" font-size="6.5">
<text x="1936" y="1559">标记</text><text x="1950" y="1559">处数</text><text x="1966" y="1559">更改文件号</text><text x="2008" y="1559">签字</text><text x="2034" y="1559">日期</text>
<text x="1937" y="1569">设计</text>
<text x="2000" y="1601">日期</text>
<text x="2185" y="1549">图样标记</text><text x="2236" y="1549">重量</text><text x="2264" y="1549">比例</text>
<text x="2264" y="1564" font-size="8">1:15</text>
<text x="2185" y="1575">共　张</text><text x="2240" y="1575">第　张</text>
</g>
</svg>
</body></html>
